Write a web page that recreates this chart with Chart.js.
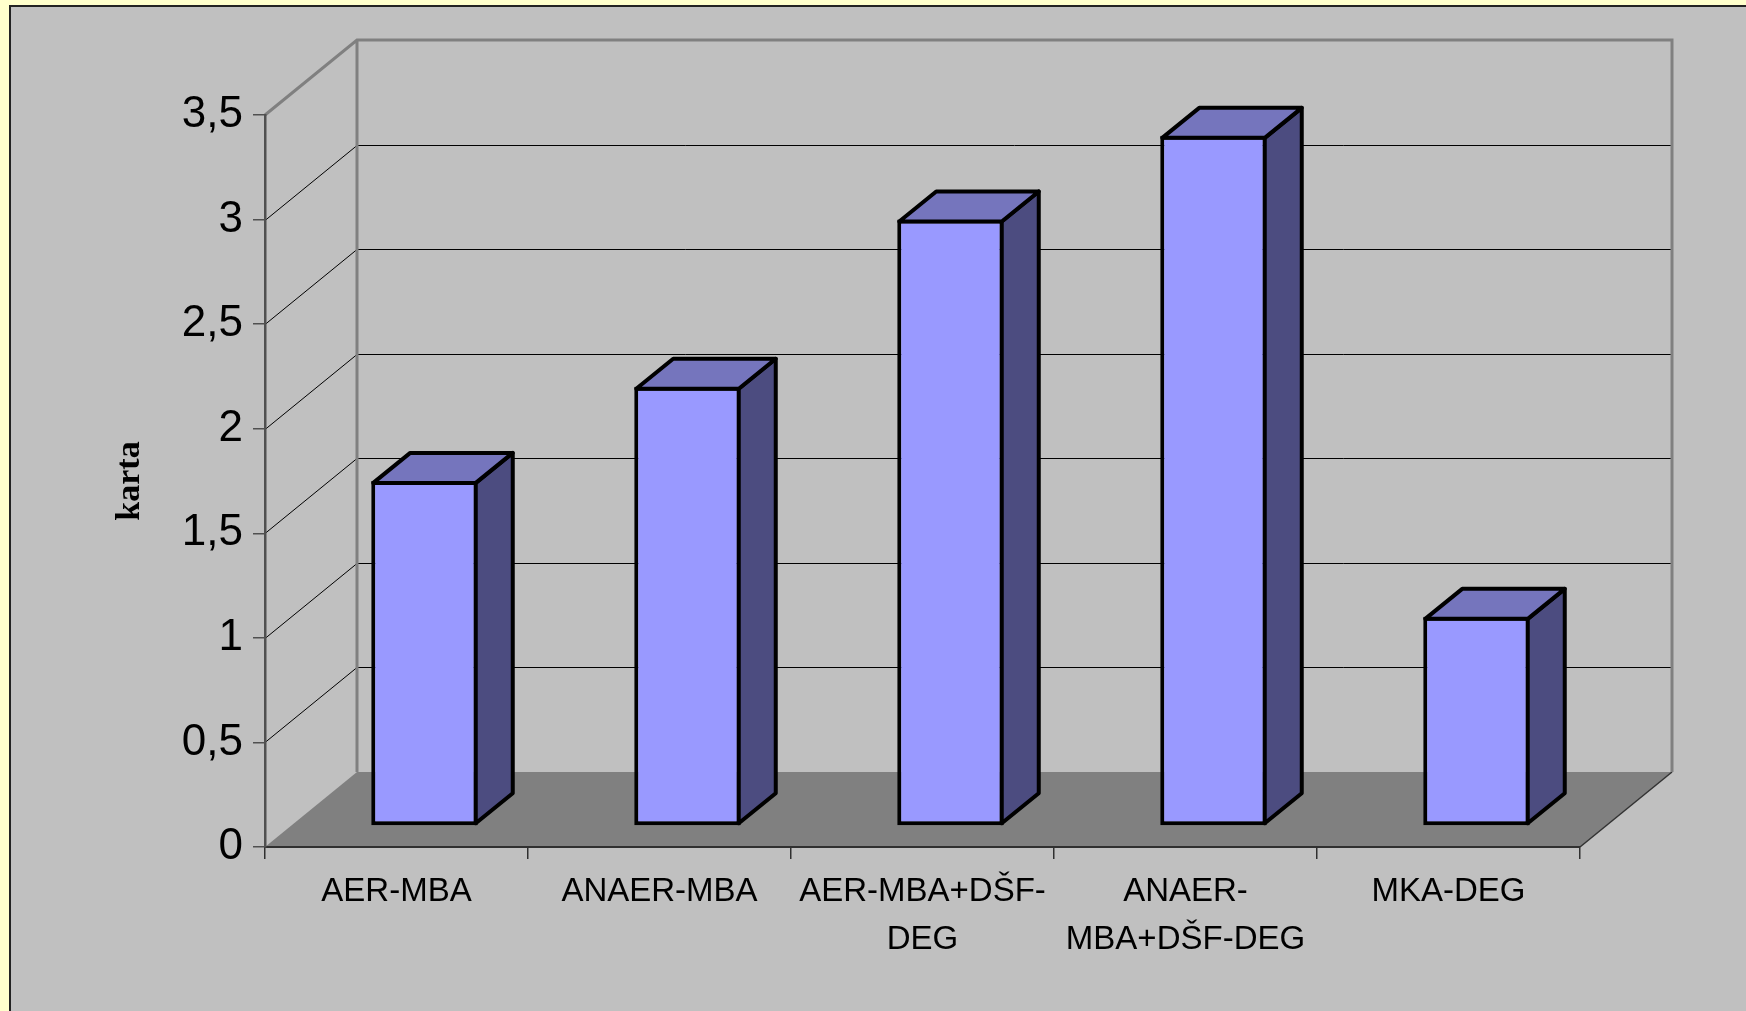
<!DOCTYPE html>
<html>
<head>
<meta charset="utf-8">
<script src="https://cdn.jsdelivr.net/npm/chart.js@4"></script>
<style>
  html, body { margin: 0; padding: 0; background: #FFFFCC; }
  #wrap { width: 1746px; height: 1011px; }
</style>
</head>
<body>
<div id="wrap"><canvas id="c" width="1746" height="1011"></canvas></div>
<script>
const categories = [
  'AER-MBA',
  'ANAER-MBA',
  ['AER-MBA+DŠF-', 'DEG'],
  ['ANAER-', 'MBA+DŠF-DEG'],
  'MKA-DEG'
];
const values = [1.65, 2.1, 2.9, 3.3, 1.0];
const yTickValues = [0, 0.5, 1, 1.5, 2, 2.5, 3, 3.5];
const yTitle = 'karta';

const WALL_DX = 92, WALL_DY = 75;     // depth of the 3D box
const BAR_SHIFT_X = 28, BAR_SHIFT_Y = 21; // bars sit mid-depth
const BAR_DX = 37, BAR_DY = 30;       // bar depth
const BW = 4;                         // bar outline width

const frame3d = {
  id: 'frame3d',
  beforeDraw(chart) {
    const ctx = chart.ctx;
    const a = chart.chartArea;
    const y = chart.scales.y;
    ctx.save();
    ctx.fillStyle = '#FFFFCC';
    ctx.fillRect(0, 0, chart.width, chart.height);
    ctx.fillStyle = '#C0C0C0';
    ctx.fillRect(10, 6, chart.width, chart.height);
    ctx.strokeStyle = '#222';
    ctx.lineWidth = 2;
    ctx.beginPath();
    ctx.moveTo(10, chart.height + 5);
    ctx.lineTo(10, 6);
    ctx.lineTo(chart.width + 5, 6);
    ctx.stroke();

    const L = a.left, R = a.right, B = a.bottom, T = a.top;
    // floor
    ctx.fillStyle = '#808080';
    ctx.beginPath();
    ctx.moveTo(L, B);
    ctx.lineTo(R, B);
    ctx.lineTo(R + WALL_DX, B - WALL_DY);
    ctx.lineTo(L + WALL_DX, B - WALL_DY);
    ctx.closePath();
    ctx.fill();
    ctx.strokeStyle = '#333';
    ctx.lineWidth = 1.5;
    ctx.beginPath();
    ctx.moveTo(R, B);
    ctx.lineTo(R + WALL_DX, B - WALL_DY);
    ctx.stroke();

    // gridlines on side and back walls
    ctx.strokeStyle = '#000';
    ctx.lineWidth = 1;
    yTickValues.forEach(v => {
      if (v <= 0 || v >= 3.5) return;
      const p = Math.round(y.getPixelForValue(v)) + 0.5;
      ctx.beginPath();
      ctx.moveTo(L, p);
      ctx.lineTo(L + WALL_DX, p - WALL_DY);
      ctx.lineTo(R + WALL_DX, p - WALL_DY);
      ctx.stroke();
    });

    // wall frame
    ctx.strokeStyle = '#808080';
    ctx.lineWidth = 3;
    ctx.beginPath();
    ctx.moveTo(L, T);
    ctx.lineTo(L + WALL_DX, T - WALL_DY);
    ctx.lineTo(R + WALL_DX, T - WALL_DY);
    ctx.lineTo(R + WALL_DX, B - WALL_DY);
    ctx.moveTo(L + WALL_DX, T - WALL_DY);
    ctx.lineTo(L + WALL_DX, B - WALL_DY);
    ctx.stroke();
    ctx.restore();
  },
  beforeDatasetsDraw(chart) {
    chart.ctx.save();
    chart.ctx.translate(BAR_SHIFT_X, -BAR_SHIFT_Y);
  },
  afterDatasetsDraw(chart) {
    const ctx = chart.ctx;
    const meta = chart.getDatasetMeta(0);
    ctx.lineWidth = BW;
    ctx.lineJoin = 'round';
    ctx.lineCap = 'round';
    ctx.strokeStyle = '#000';
    const h = BW / 2;
    meta.data.forEach(bar => {
      const p = bar.getProps(['x', 'y', 'base', 'width'], true);
      const l = p.x - p.width / 2 + h, r = p.x + p.width / 2 - h;
      const t = p.y + h, b = p.base - h;
      // side face
      ctx.fillStyle = '#4C4C80';
      ctx.beginPath();
      ctx.moveTo(r, t);
      ctx.lineTo(r + BAR_DX, t - BAR_DY);
      ctx.lineTo(r + BAR_DX, b - BAR_DY);
      ctx.lineTo(r, b);
      ctx.closePath();
      ctx.fill();
      ctx.stroke();
      // top face
      ctx.fillStyle = '#7575BD';
      ctx.beginPath();
      ctx.moveTo(l, t);
      ctx.lineTo(l + BAR_DX, t - BAR_DY);
      ctx.lineTo(r + BAR_DX, t - BAR_DY);
      ctx.lineTo(r, t);
      ctx.closePath();
      ctx.fill();
      ctx.stroke();
    });
    ctx.restore();
  }
};

new Chart(document.getElementById('c'), {
  type: 'bar',
  data: {
    labels: categories,
    datasets: [{
      data: values,
      backgroundColor: '#9999FF',
      borderColor: '#000',
      borderWidth: BW,
      borderSkipped: false,
      barPercentage: 0.405,
      categoryPercentage: 1.0,
      clip: false
    }]
  },
  options: {
    responsive: false,
    animation: false,
    devicePixelRatio: 1,
    layout: { padding: { top: 115, right: 166, bottom: 0, left: 0 } },
    plugins: { legend: { display: false }, tooltip: { enabled: false } },
    scales: {
      x: {
        afterFit(s) { s.height = 164; },
        grid: {
          display: true, drawOnChartArea: false, offset: true,
          tickLength: 12, color: '#303030', lineWidth: 1.5
        },
        border: { display: true, color: '#303030', width: 2 },
        ticks: {
          autoSkip: false, maxRotation: 0, minRotation: 0,
          padding: 9, color: '#000',
          font: { family: '"Liberation Sans", Arial, sans-serif', size: 33, lineHeight: 1.45 }
        }
      },
      y: {
        min: 0, max: 3.5,
        afterFit(s) { s.width = 265; },
        afterBuildTicks(s) { s.ticks = yTickValues.map(v => ({ value: v })); },
        grid: {
          display: true, drawOnChartArea: false,
          tickLength: 12, color: '#505050', lineWidth: 1.5
        },
        border: { display: true, color: '#505050', width: 2.5 },
        ticks: {
          padding: 10, color: '#000',
          font: { family: '"Liberation Sans", Arial, sans-serif', size: 44 },
          callback: v => String(v).replace('.', ',')
        },
        title: {
          display: true, text: yTitle, color: '#000',
          font: { family: '"Liberation Serif", "Times New Roman", serif', size: 34, weight: 'bold' },
          padding: { top: 110, bottom: 0 }
        }
      }
    }
  },
  plugins: [frame3d]
});
</script>
</body>
</html>
